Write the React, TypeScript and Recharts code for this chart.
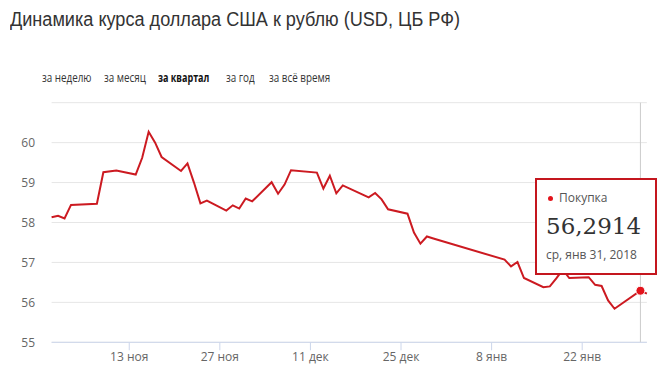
import { CartesianGrid, Line, LineChart, ReferenceDot, ReferenceLine, XAxis, YAxis } from "recharts"

// курс USD ЦБ РФ, ноябрь 2017 - февраль 2018
const dates = [
  "2017-11-01", "2017-11-02", "2017-11-03", "2017-11-04", "2017-11-08", "2017-11-09", "2017-11-11",
  "2017-11-14", "2017-11-15", "2017-11-16", "2017-11-17", "2017-11-18", "2017-11-21", "2017-11-22",
  "2017-11-23", "2017-11-24", "2017-11-25", "2017-11-28", "2017-11-29", "2017-11-30", "2017-12-01",
  "2017-12-02", "2017-12-05", "2017-12-06", "2017-12-07", "2017-12-08", "2017-12-12", "2017-12-13",
  "2017-12-14", "2017-12-15", "2017-12-16", "2017-12-20", "2017-12-21", "2017-12-22", "2017-12-23",
  "2017-12-26", "2017-12-27", "2017-12-28", "2017-12-29", "2017-12-30", "2018-01-10", "2018-01-11",
  "2018-01-12", "2018-01-13", "2018-01-16", "2018-01-17", "2018-01-18", "2018-01-19", "2018-01-20",
  "2018-01-23", "2018-01-24", "2018-01-25", "2018-01-26", "2018-01-27", "2018-01-31", "2018-02-01",
]

const rates = [
  58.13, 58.17, 58.1, 58.44, 58.47, 59.26, 59.3,
  59.2, 59.62, 60.27, 60.0, 59.64, 59.29, 59.48,
  59.0, 58.48, 58.55, 58.3, 58.43, 58.35, 58.6,
  58.53, 59.01, 58.72, 58.95, 59.31, 59.25, 58.85,
  59.17, 58.73, 58.93, 58.63, 58.74, 58.58, 58.33,
  58.22, 57.75, 57.47, 57.65, 57.6, 57.07, 56.9,
  57.01, 56.61, 56.38, 56.4, 56.6, 56.82, 56.61,
  56.63, 56.44, 56.41, 56.05, 55.84, 56.2914, 56.22,
]

const xTicks = ["2017-11-13", "2017-11-27", "2017-12-11", "2017-12-25", "2018-01-08", "2018-01-22"]
const xTickLabels = ["13 ноя", "27 ноя", "11 дек", "25 дек", "8 янв", "22 янв"]
const yTicks = [55, 56, 57, 58, 59, 60, 61]
const tabs = ["за неделю", "за месяц", "за квартал", "за год", "за всё время"]

const selectedDate = "2018-01-31"
const selectedRate = 56.2914

const start = Date.UTC(2017, 10, 1)
const dayOf = (s: string) => {
  const [y, m, d] = s.split("-").map(Number)
  return Math.round((Date.UTC(y, m - 1, d) - start) / 86400000)
}

const data = dates.map((date, i) => ({ day: dayOf(date), rate: rates[i] }))
const tickDays = xTicks.map(dayOf)

const tabLeft = [42, 104, 158, 226, 269]

export default function App() {
  return (
    <div style={{ position: "relative", width: 666, height: 369, background: "#fff", overflow: "hidden" }}>
      <style>{"body{margin:0}"}</style>
      <div
        style={{
          position: "absolute",
          left: 10,
          top: 9,
          fontFamily: "'Liberation Sans', Arial, sans-serif",
          fontSize: 20,
          lineHeight: "20px",
          color: "#333",
          whiteSpace: "nowrap",
          transform: "scaleX(0.905)",
          transformOrigin: "left top",
        }}
      >
        Динамика курса доллара США к рублю (USD, ЦБ РФ)
      </div>
      {tabs.map((t, i) => (
        <div
          key={t}
          style={{
            position: "absolute",
            left: tabLeft[i],
            top: 71.5,
            fontFamily: "'Open Sans', sans-serif",
            fontSize: 12,
            lineHeight: "12px",
            color: i === 2 ? "#111" : "#333",
            fontWeight: i === 2 ? 700 : 400,
            whiteSpace: "nowrap",
            transform: i === 2 ? "scaleX(0.75)" : "scaleX(0.82)",
            transformOrigin: "left top",
          }}
        >
          {t}
        </div>
      ))}
      <div style={{ position: "absolute", left: 0, top: 0 }}>
        <LineChart width={666} height={369} data={data} margin={{ top: 102.7, right: 19.1, bottom: 0, left: 0 }}>
          <CartesianGrid horizontal vertical={false} stroke="#e6e6e6" />
          <XAxis
            dataKey="day"
            type="number"
            domain={[0, 92]}
            ticks={tickDays}
            tickFormatter={(v) => xTickLabels[tickDays.indexOf(v)] ?? ""}
            height={26.7}
            stroke="#ccd6eb"
            tickSize={8}
            tickMargin={2}
            tick={{ fill: "#666", fontSize: 12, fontFamily: "'Open Sans', sans-serif" }}
          />
          <YAxis
            type="number"
            domain={[55, 61]}
            ticks={yTicks}
            tickFormatter={(v) => (v === 61 ? "" : String(v))}
            width={51.6}
            axisLine={false}
            tickLine={false}
            tickSize={0}
            tickMargin={16.5}
            tick={{ fill: "#666", fontSize: 12, fontFamily: "'Open Sans', sans-serif" }}
          />
          <ReferenceLine x={dayOf(selectedDate)} stroke="#cccccc" strokeWidth={1} />
          <Line
            type="linear"
            dataKey="rate"
            stroke="#cc1a21"
            strokeWidth={2}
            dot={false}
            activeDot={false}
            isAnimationActive={false}
          />
          <ReferenceDot x={dayOf(selectedDate)} y={selectedRate} r={4.5} fill="#e3131b" stroke="#fff" strokeWidth={1} />
        </LineChart>
      </div>
      <div
        style={{
          position: "absolute",
          left: 535,
          top: 178,
          width: 122,
          height: 97,
          boxSizing: "border-box",
          border: "2px solid #c4161e",
          background: "#fff",
        }}
      />
      <div
        style={{
          position: "absolute",
          left: 547.5,
          top: 196.2,
          width: 5,
          height: 5,
          borderRadius: "50%",
          background: "#e3131b",
        }}
      />
      <div
        style={{
          position: "absolute",
          left: 559,
          top: 191.8,
          fontFamily: "'Open Sans', sans-serif",
          fontSize: 12,
          lineHeight: "12px",
          color: "#555",
          whiteSpace: "nowrap",
        }}
      >
        Покупка
      </div>
      <div
        style={{
          position: "absolute",
          left: 546,
          top: 214.8,
          fontFamily: "'DejaVu Serif', serif",
          fontSize: 23,
          lineHeight: "23px",
          color: "#333",
          whiteSpace: "nowrap",
        }}
      >
        56,2914
      </div>
      <div
        style={{
          position: "absolute",
          left: 546,
          top: 248.8,
          fontFamily: "'Open Sans', sans-serif",
          fontSize: 12,
          lineHeight: "12px",
          color: "#555",
          whiteSpace: "nowrap",
        }}
      >
        ср, янв 31, 2018
      </div>
    </div>
  )
}
